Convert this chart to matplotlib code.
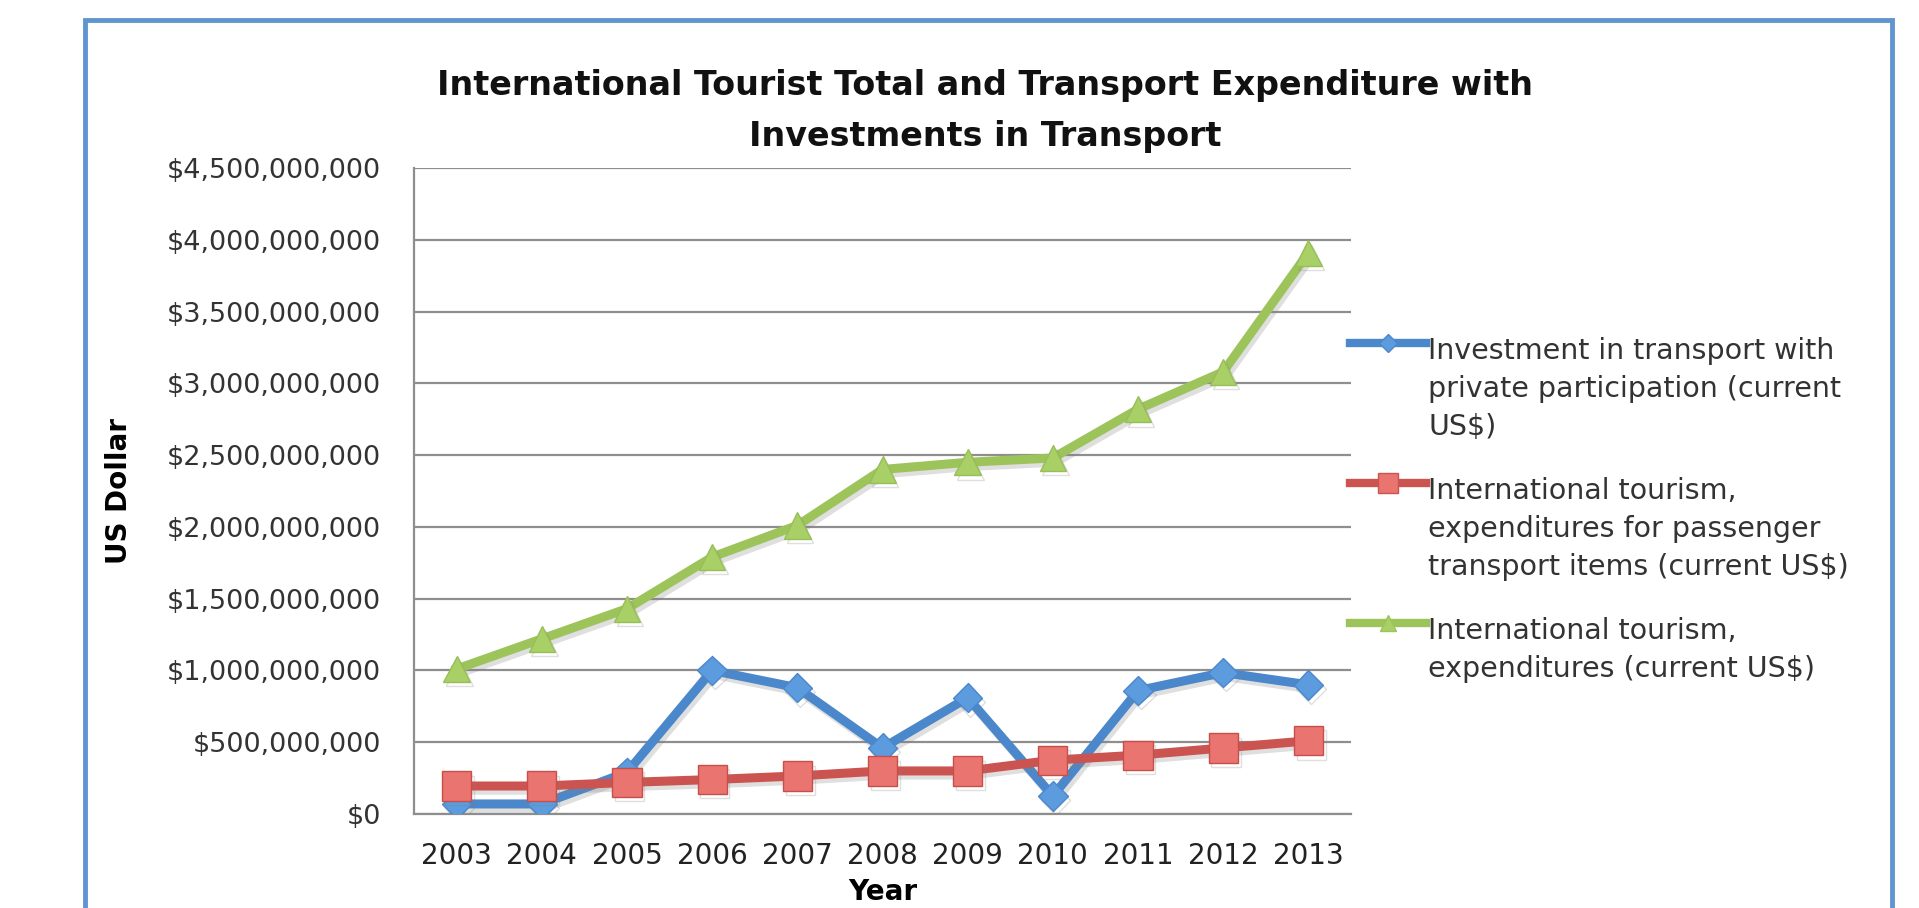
import matplotlib
matplotlib.use("Agg")
import matplotlib.pyplot as plt
import matplotlib.patheffects as pe
from matplotlib.lines import Line2D
from matplotlib.patches import Rectangle
from matplotlib.ticker import FuncFormatter
import numpy as np

# ---- data ----
years = ["2003", "2004", "2005", "2006", "2007", "2008", "2009", "2010", "2011", "2012", "2013"]
invest_private = [0.07e9, 0.07e9, 0.29e9, 1.00e9, 0.88e9, 0.46e9, 0.81e9, 0.125e9, 0.86e9, 0.985e9, 0.90e9]
tourism_transport = [0.195e9, 0.195e9, 0.22e9, 0.24e9, 0.265e9, 0.30e9, 0.30e9, 0.375e9, 0.41e9, 0.46e9, 0.51e9]
tourism_total = [1.01e9, 1.22e9, 1.43e9, 1.79e9, 2.01e9, 2.40e9, 2.45e9, 2.48e9, 2.82e9, 3.08e9, 3.91e9]

labels = [
    "Investment in transport with\nprivate participation (current\nUS$)",
    "International tourism,\nexpenditures for passenger\ntransport items (current US$)",
    "International tourism,\nexpenditures (current US$)",
]

W, H = 1919, 908
BLUE, RED, GREEN = "#4A87CB", "#CC5450", "#9DC35B"
GRID = "#8E8E8E"

fig = plt.figure(figsize=(W / 100, H / 100), dpi=100)
plt.rcParams['font.family'] = ['DejaVu Sans']

# axes placed by pixel box
left, right, top, bottom = 414, 1351, 168, 814
ax = fig.add_axes([left / W, 1 - bottom / H, (right - left) / W, (bottom - top) / H])

x = np.arange(len(years))
shadow = [pe.SimpleLineShadow(offset=(2, -3), shadow_color="gray", alpha=0.25), pe.Normal()]

ax.plot(x, invest_private, color=BLUE, lw=6.5, marker="D", ms=15,
        mfc="#5B9BDE", mec="#4A87CB", mew=1, path_effects=shadow, zorder=3, solid_joinstyle="miter")
ax.plot(x, tourism_transport, color=RED, lw=6.5, marker="s", ms=21,
        mfc="#EA7470", mec="#C84E4A", mew=1, path_effects=shadow, zorder=4, solid_joinstyle="miter")
ax.plot(x, tourism_total, color=GREEN, lw=6.5, marker="^", ms=19,
        mfc="#A9D066", mec="#98BE58", mew=1, path_effects=shadow, zorder=5, solid_joinstyle="miter")

ax.set_xlim(-0.5, len(years) - 0.5)
ax.set_ylim(0, 4.5e9)
ax.set_yticks(np.arange(0, 4.51e9, 0.5e9))
ax.yaxis.set_major_formatter(FuncFormatter(lambda v, p: f"${v:,.0f}"))
ax.set_xticks(x)
ax.set_xticklabels(years)

ax.grid(axis="y", color=GRID, lw=1.6)
ax.set_axisbelow(True)
for s in ["top", "right"]:
    ax.spines[s].set_visible(False)
for s in ["left", "bottom"]:
    ax.spines[s].set_color(GRID)
    ax.spines[s].set_linewidth(1.6)

ax.tick_params(axis="y", length=0, pad=24, labelsize=19.5, labelcolor="#333333")
ax.tick_params(axis="x", length=0, pad=20, labelsize=20, labelcolor="#222222")

ax.set_ylabel("US Dollar", fontsize=20, fontweight="bold", labelpad=24)
ax.set_xlabel("Year", fontsize=20, fontweight="bold", labelpad=6)

fig.text(985 / W, 1 - 69 / H,
         "International Tourist Total and Transport Expenditure with\nInvestments in Transport",
         ha="center", va="top", fontsize=24, fontweight="bold", linespacing=1.7, color="#111111")

# legend drawn by hand so the key sits on the first text line
handle_y = [343, 483, 623]
styles = [(BLUE, "D", 9, "#5B9BDE"), (RED, "s", 14, "#EA7470"), (GREEN, "^", 11, "#A9D066")]
for hy, lab, (c, m, ms, fc) in zip(handle_y, labels, styles):
    fy = 1 - hy / H
    fig.add_artist(Line2D([1350 / W, 1426 / W], [fy, fy], color=c, lw=6,
                          transform=fig.transFigure))
    fig.add_artist(Line2D([1388 / W], [fy], color=c, marker=m, ms=ms, mfc=fc, mec=c,
                          transform=fig.transFigure))
    fig.text(1428 / W, 1 - (hy - 6) / H, lab, ha="left", va="top",
             fontsize=20.5, linespacing=1.46, color="#333333")

# chart-area frame
fig.add_artist(Rectangle((85 / W, -0.1), (1892 - 85) / W, 1.1 - 20 / H,
                         transform=fig.transFigure, fill=False,
                         edgecolor="#6096D0", lw=3.5, clip_on=False))

fig.savefig("out.png", dpi=100, facecolor="white")
